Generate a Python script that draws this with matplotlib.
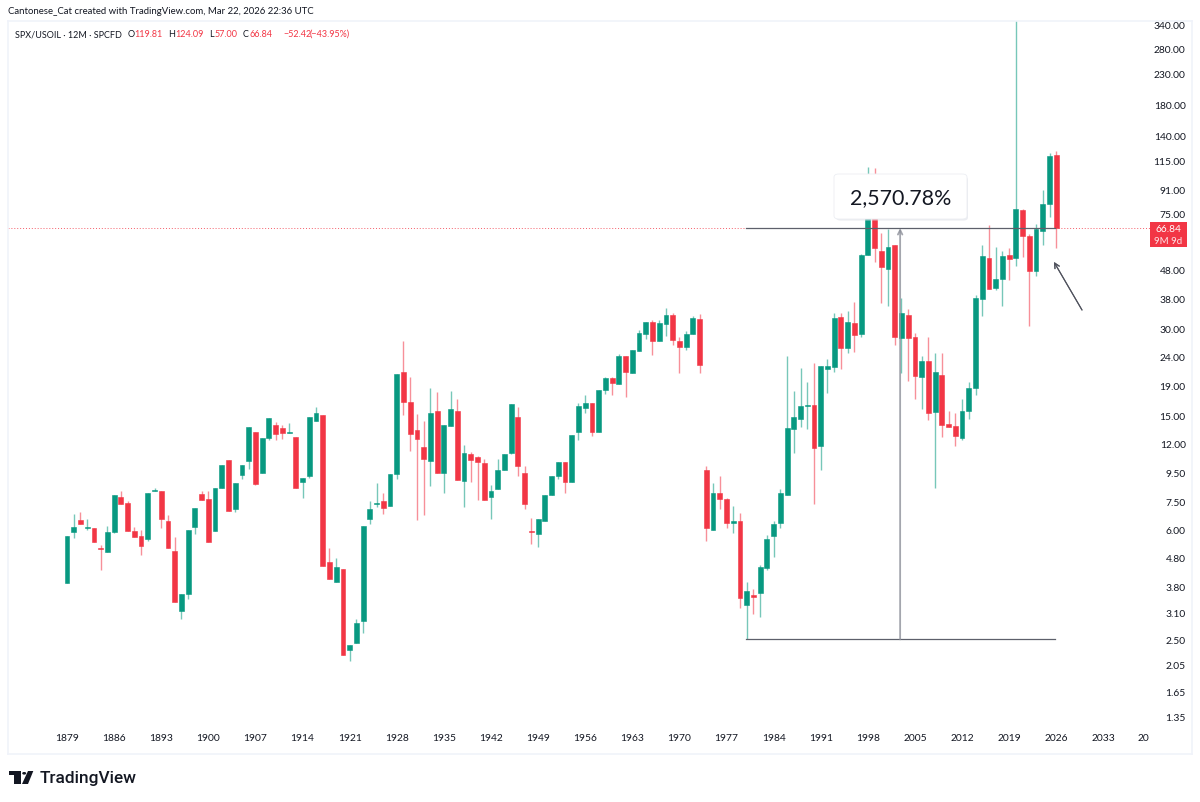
import matplotlib
matplotlib.use('Agg')
import matplotlib.pyplot as plt
from matplotlib.patches import Rectangle, FancyBboxPatch, Polygon, Circle

plt.rcParams['font.family'] = ['Lato', 'DejaVu Sans']

# yearly candles, each row holds ten years and starts at the year in the comment
years = list(range(1879, 2027))
opens = [
    3.91, 5.91, 6.51, 6.08, 6.09, 5.2, 5.03, 5.89, 7.78, 7.42,  # 1879
    5.96, 5.72, 5.57, 8.17, 8.21, 6.42, 5.06, 3.14, 3.58, 6.14,  # 1889
    8.0, 7.7, 5.95, 8.41, 10.5, 7.09, 9.3, 10.4, 13.1, 9.45,  # 1899
    12.5, 13.9, 13.5, 13.0, 12.6, 8.78, 9.2, 14.3, 15, 4.63,  # 1909
    3.95, 4.39, 2.29, 2.43, 2.9, 6.54, 7.37, 7.54, 7.25, 9.4,  # 1919
    21.1, 16.6, 13.3, 11.6, 10.4, 15.5, 9.45, 13.8, 15.5, 8.87,  # 1929
    11, 10.7, 10.2, 7.77, 8.32, 9.66, 11.1, 14.8, 9.43, 5.96,  # 1939
    5.8, 6.44, 7.93, 9.2, 10.3, 8.78, 13.1, 15.9, 16.5, 13.1,  # 1949
    18.3, 20.1, 19.3, 24, 21, 25, 28.7, 31.6, 27.1, 31,  # 1959
    33.5, 27.1, 25.8, 28.6, 32.4, 9.64, 6, 8.03, 7.7, 6.36,  # 1969
    6.45, 3.29, 3.56, 3.62, 4.42, 5.72, 6.36, 7.95, 13.4, 14.5,  # 1979
    16.1, 16.3, 11.7, 21.6, 22, 32.9, 25.7, 31.3, 28.6, 54,  # 1989
    95, 55.8, 48.1, 58.2, 27.7, 33.5, 28, 20.4, 23.2, 15.4,  # 1999
    20.6, 14, 13.7, 12.5, 15.5, 18.7, 37.9, 52.7, 41.3, 44.4,  # 2009
    54, 52.8, 77.3, 62.8, 47.4, 65.2, 81, 119.81,  # 2019
]
highs = [
    5.72, 6.79, 6.94, 6.55, 6.09, 5.3, 6.2, 7.95, 8.17, 7.54,
    6.13, 5.97, 8.08, 8.41, 8.21, 6.74, 5.68, 3.58, 6.01, 7.14,
    8.17, 8.21, 8.39, 10.05, 10.5, 8.75, 10.1, 13.6, 13.1, 12.5,
    14.7, 14.2, 13.9, 14.1, 12.6, 9.09, 14.8, 16, 15, 5.18,
    4.8, 4.39, 2.39, 2.95, 6.17, 7.58, 8.7, 8.03, 9.4, 20.8,
    27.1, 20.4, 15.1, 14.3, 18.7, 18.1, 13.9, 18.2, 17.1, 11.8,
    11.2, 10.8, 10.6, 8.6, 10.6, 11, 16.4, 16, 9.95, 6.6,
    6.53, 7.95, 9.2, 10.3, 10.3, 12.8, 16.5, 17.6, 16.5, 18.4,
    20.4, 20.3, 24.4, 24, 25.2, 29.7, 31.6, 32.2, 32, 35.4,
    33.8, 27.9, 29.3, 33.1, 33.7, 10, 8.7, 9.2, 7.75, 7.26,
    6.88, 3.94, 3.75, 4.52, 5.74, 6.44, 8.3, 24, 18.2, 21.9,
    19.5, 22.8, 22.2, 23.4, 33.8, 33.8, 34.4, 36.9, 54.2, 109,
    108, 64.3, 66.6, 58.2, 38.2, 35.1, 29, 24, 28, 24.6,
    24.6, 15.5, 15.3, 17.1, 19.6, 39.2, 58.6, 68.3, 57.6, 55.5,
    56.8, 400, 78, 64, 69.3, 90.3, 122, 124.09,
]
lows = [
    3.91, 5.6, 6.30, 6.0, 5.45, 4.35, 5.03, 5.83, 7.4, 5.95,
    5.67, 4.89, 5.5, 8.17, 6.11, 5.17, 3.37, 2.95, 3.45, 5.81,
    7.6, 5.45, 5.95, 8.41, 6.97, 6.92, 9.04, 9.74, 8.6, 9.45,
    12.3, 12.3, 12.4, 13.0, 8.41, 7.75, 9.09, 14.3, 4.5, 4.06,
    3.95, 2.21, 2.1, 2.43, 2.63, 6.3, 7.2, 6.83, 7.25, 8.99,
    15, 11.3, 6.5, 6.75, 8.52, 9.45, 8.03, 13.8, 8.92, 7.2,
    8.8, 7.6, 7.6, 6.53, 8.32, 9.66, 11, 9.25, 7.07, 5.37,
    5.25, 6.44, 7.93, 8.99, 8.03, 8.78, 12.3, 15.3, 12.7, 13.1,
    17.8, 17.6, 19.3, 17.3, 21, 25, 27.6, 24.3, 27.1, 28.2,
    26.3, 21, 25.2, 28.6, 21, 5.47, 6, 7.07, 6.08, 5.83,
    3.2, 2.51, 3.06, 3.0, 4.35, 4.83, 6.11, 7.95, 11.1, 13.6,
    13.4, 7.4, 9.7, 17.9, 21.2, 21.6, 24.7, 24.9, 28, 54,
    51, 36.7, 35.8, 26.3, 21, 19.7, 17.1, 15.8, 14.4, 8.41,
    12.6, 13.6, 11.7, 12.3, 14.6, 17.6, 33.1, 41.2, 40.9, 36,
    44, 49.5, 53, 30.5, 45.6, 58.3, 73.2, 57,
]
closes = [
    5.72, 6.13, 6.30, 6.14, 5.45, 5.14, 5.91, 7.95, 7.4, 5.95,
    5.67, 5.27, 8.08, 8.23, 6.55, 5.17, 3.37, 3.58, 6.01, 7.14,
    7.6, 5.45, 8.39, 10.05, 6.97, 8.75, 10.1, 13.6, 8.64, 12.5,
    14.7, 12.9, 13.0, 13.1, 8.41, 9.09, 14.8, 15.3, 4.5, 4.06,
    4.44, 2.21, 2.39, 2.86, 6.17, 7.11, 7.44, 7.13, 9.4, 20.8,
    16.7, 12.9, 12.4, 10.6, 15.3, 9.45, 13.9, 15.7, 8.92, 11.1,
    10.5, 10.3, 7.6, 8.21, 9.7, 11, 16.4, 10, 7.37, 5.91,
    6.53, 7.95, 9.2, 10.3, 8.78, 12.8, 16.1, 16.5, 13.1, 18.4,
    20.1, 19.4, 24, 21.2, 25.2, 28.8, 31.6, 27.1, 31.2, 33.4,
    27.3, 25.8, 28.6, 32.5, 22.4, 6.11, 8.08, 7.68, 6.36, 6.45,
    3.47, 3.67, 3.5, 4.44, 5.57, 6.3, 8.03, 13.5, 14.8, 16.1,
    16.2, 11.5, 22.2, 22.2, 32.7, 25.7, 31.5, 28.5, 54, 95,
    56.8, 49, 57.6, 28, 34, 27.7, 20.5, 23.1, 15.3, 21.2,
    13.9, 13.6, 12.7, 15.5, 18.7, 38.2, 53.6, 41.2, 44.4, 53.6,
    52.2, 77.6, 62.8, 47.4, 66.5, 81, 118.5, 66.84,
]

price_ticks = [340, 280, 230, 180, 140, 115, 91, 75, 48, 38, 30, 24, 19, 15, 12,
               9.5, 7.5, 6, 4.8, 3.8, 3.1, 2.5, 2.05, 1.65, 1.35]
year_ticks = [1879, 1886, 1893, 1900, 1907, 1914, 1921, 1928, 1935, 1942, 1949, 1956,
              1963, 1970, 1977, 1984, 1991, 1998, 2005, 2012, 2019, 2026, 2033]
measure_from = 2.5
last_close = closes[-1]

GREEN = '#089981'
RED = '#f23645'
INK = '#131722'
W, H = 1200, 803


def fx(x):
    return x / W


def fy(y):
    return 1 - y / H


fig = plt.figure(figsize=(12, 8.03), dpi=100, facecolor='white')
ax = fig.add_axes([fx(8), fy(754.5), fx(1184), fy(21.5) - fy(754.5)])
ax.set_yscale('log')
ax.set_xlim(1870.23, 2046.17)
ax.set_ylim(1.0046, 351)

for s in ax.spines.values():
    s.set_color('#f0f3fa')
    s.set_linewidth(1.2)

# candles
for yr, o, h, l, c in zip(years, opens, highs, lows, closes):
    col = GREEN if c >= o else RED
    ax.vlines(yr, l, h, color=col, lw=1.0, alpha=0.55, zorder=2)
    ax.bar(yr, abs(c - o), bottom=min(o, c), width=0.72, color=col,
           edgecolor=col, linewidth=0.4, zorder=3)

ax.minorticks_off()
ax.yaxis.tick_right()
ax.set_yticks(price_ticks)
ax.set_yticklabels(['%.2f' % p for p in price_ticks])
ax.tick_params(axis='y', which='both', length=0, pad=-4.5, labelsize=7.4, labelcolor=INK)
for t in ax.get_yticklabels():
    t.set_horizontalalignment('right')
ax.set_xticks(year_ticks + [2039])
ax.set_xticklabels([str(y) for y in year_ticks] + ['20'])
ax.tick_params(axis='x', length=0, pad=-15, labelsize=7.4, labelcolor=INK)

# last price line
ax.plot([1870.23, 2040.4], [last_close, last_close], color=RED, lw=0.7, ls=(0, (1, 2)), alpha=0.8, zorder=1)

# measuring tool
ax.plot([1979.9, 2025.8], [last_close, last_close], color='#5d606b', lw=0.9, zorder=4)
ax.plot([1979.9, 2025.8], [measure_from, measure_from], color='#5d606b', lw=0.9, zorder=4)
ax.annotate('', xy=(2002.8, last_close), xytext=(2002.8, measure_from),
            arrowprops=dict(arrowstyle='->', color='#8d909a', lw=1.3, alpha=0.8,
                            mutation_scale=8, shrinkA=0, shrinkB=0), zorder=4)

# label of the measure, sits over the candles
fig.patches.append(FancyBboxPatch((fx(836), fy(220) - 0.002), fx(132), fy(176) - fy(220),
                                  boxstyle='round,pad=0,rounding_size=0.004', transform=fig.transFigure,
                                  fc='#dfe1e8', ec='none', alpha=0.6, zorder=5))
fig.patches.append(FancyBboxPatch((fx(834), fy(220)), fx(133), fy(175) - fy(220),
                                  boxstyle='round,pad=0,rounding_size=0.004', transform=fig.transFigure,
                                  fc='white', ec='#eceef3', lw=0.6, zorder=6))
fig.text(fx(900.5), fy(198), '2,570.78%', fontsize=15.4, color=INK, ha='center', va='center', zorder=7)

# hand drawn arrow
fig.add_artist(plt.annotate('', xy=(fx(1054), fy(263)), xytext=(fx(1082), fy(311)),
                            xycoords='figure fraction', textcoords='figure fraction',
                            arrowprops=dict(arrowstyle='->', color='#50535e', lw=0.8,
                                            mutation_scale=9, shrinkA=0, shrinkB=0)))

# price tag on the scale
fig.patches.append(Rectangle((fx(1150), fy(247.5)), fx(37), fy(222.7) - fy(247.5),
                             transform=fig.transFigure, fc=RED, ec='none', zorder=5))
fig.text(fx(1168.5), fy(229.5), '66.84', fontsize=7.3, color='white', ha='center', va='center', zorder=6)
fig.text(fx(1168.5), fy(241), '9M 9d', fontsize=7, color='#fde3e6', ha='center', va='center', zorder=6)

# header
fig.text(fx(8), fy(12), 'Cantonese_Cat created with TradingView.com, Mar 22, 2026 22:36 UTC',
         fontsize=6.9, color=INK, ha='left', va='center')
legend_parts = [(15, 'SPX/USOIL · 12M · SPCFD', INK), (128, 'O', INK), (134.5, '119.81', RED),
                (168, 'H', INK), (175, '124.09', RED), (209, 'L', INK), (215, '57.00', RED),
                (243, 'C', INK), (249, '66.84', RED), (283, '−52.42', RED), (310, '(−43.95%)', RED)]
for x, txt, col in legend_parts:
    fig.text(fx(x), fy(34.5), txt, fontsize=6.5, color=col, ha='left', va='center')

# logo
logo = '#131722'
fig.patches.append(Polygon([(fx(9), fy(772)), (fx(21), fy(772)), (fx(21), fy(785)), (fx(14), fy(785)),
                            (fx(14), fy(776)), (fx(9), fy(776))], transform=fig.transFigure, fc=logo, ec='none'))
fig.patches.append(Circle((fx(24.2), fy(774.3)), 2.0 / W, transform=fig.transFigure, fc=logo, ec='none'))
fig.patches.append(Polygon([(fx(28), fy(772)), (fx(33.3), fy(772)), (fx(28), fy(785)), (fx(22), fy(785))],
                           transform=fig.transFigure, fc=logo, ec='none'))
fig.text(fx(39.5), fy(779), 'TradingView', fontsize=12.4, fontweight='medium', family=['Roboto', 'DejaVu Sans'],
         color=logo, ha='left', va='center')

fig.savefig('out.png', dpi=100)
